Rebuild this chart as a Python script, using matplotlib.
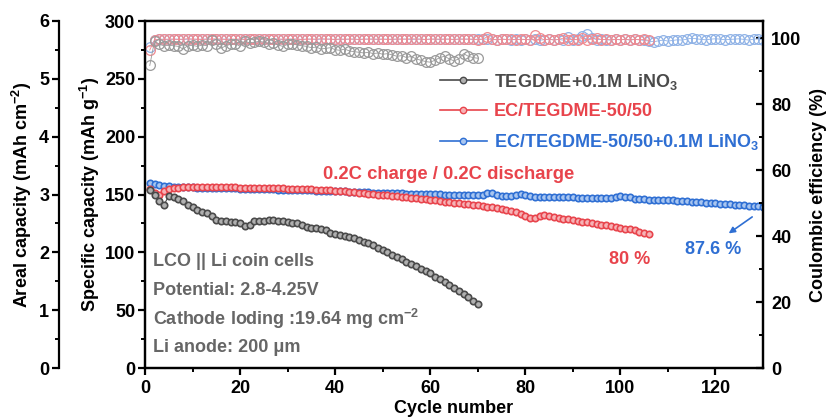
import numpy as np
import matplotlib
matplotlib.use("Agg")
import matplotlib.pyplot as plt
from matplotlib.lines import Line2D

plt.rcParams['font.family'] = ['Liberation Sans', 'DejaVu Sans']
plt.rcParams['font.weight'] = 'bold'
plt.rcParams['mathtext.fontset'] = 'custom'
plt.rcParams['mathtext.rm'] = 'Liberation Sans:bold'
plt.rcParams['mathtext.it'] = 'Liberation Sans:bold'
plt.rcParams['mathtext.bf'] = 'Liberation Sans:bold'
plt.rcParams['mathtext.default'] = 'rm'

# discharge capacity (mAh g-1)
gray_cap = [154, 150, 144, 141, 149, 148, 146, 144, 141, 139,
            137, 135, 134, 131, 128, 127, 127, 126, 126, 125,
            123, 124, 127, 127, 127, 128, 128, 127, 127, 126,
            125, 125, 124, 122, 121, 121, 120, 119, 117, 116,
            115, 114, 113, 112, 111, 109, 108, 106, 104, 102,
            100, 98, 96, 94, 92, 90, 88, 86, 84, 82,
            79, 77, 74, 72, 69, 67, 64, 61, 58, 55]
red_cap = [155, 151, 150, 153, 155, 156, 156, 156.5, 156.5, 156.5,
           156.5, 156.5, 156.5, 156.5, 156.5, 156.3, 156.3, 156.2, 156.2, 156,
           156, 155.8, 155.8, 155.6, 155.6, 155.5, 155.4, 155.4, 155.2, 155,
           155, 154.8, 154.6, 154.5, 154.4, 154.2, 154, 153.8, 153.5, 153.2,
           153, 152.6, 152.3, 152, 151.6, 151.2, 150.8, 150.4, 150, 149.6,
           149.2, 148.8, 148.5, 148.1, 147.7, 147.3, 146.9, 146.4, 145.9, 145.4,
           144.9, 144.4, 143.9, 143.4, 143, 142.5, 142, 141.5, 141, 140.5,
           140, 139.5, 139, 138.4, 137.7, 136.8, 135.8, 134.5, 133, 131.5,
           130, 129.5, 131, 132, 131.5, 130.5, 130, 129.2, 128.5, 127.8,
           127.2, 126.5, 125.8, 125.2, 124.6, 124, 123.3, 122.6, 122, 121.4,
           120.6, 119.8, 119, 118, 117, 115.5]
blue_cap = [160, 159.5, 158.5, 157.5, 157, 156.5, 156.5, 156.5, 156.3, 156.2,
            156, 156, 155.8, 155.8, 155.6, 155.5, 155.4, 155.3, 155.2, 155.1,
            155, 154.9, 154.8, 154.7, 154.6, 154.5, 154.4, 154.3, 154.2, 154.1,
            154, 153.9, 153.8, 153.6, 153.5, 153.4, 153.3, 153.2, 153.1, 153,
            152.8, 152.7, 152.5, 152.4, 152.2, 152, 151.8, 151.7, 151.5, 151.4,
            151.3, 151.2, 151, 150.9, 150.8, 150.7, 150.6, 150.5, 150.4, 150.3,
            150.2, 150.1, 150, 149.9, 149.8, 149.7, 149.6, 149.5, 149.4, 149.3,
            149.5, 151, 151.5, 149.5, 149, 148.8, 148.7, 149.2, 150.5, 150,
            148.5, 148.2, 148, 148, 147.9, 147.8, 147.8, 147.7, 147.6, 147.5,
            147.4, 147.3, 147.2, 147.1, 147, 146.9, 146.8, 146.7, 147.5, 148.5,
            148, 147.5, 146.5, 146, 145.8, 145.6, 145.5, 145.4, 145.3, 145.2,
            145, 144.8, 144.5, 144.2, 143.9, 143.6, 143.3, 143, 142.7, 142.4,
            142.1, 141.8, 141.5, 141.2, 140.9, 140.6, 140.3, 140, 139.7, 139.5]

# coulombic efficiency (%)
gray_ce = [91.8, 99.3, 98.2, 97.8, 97.9, 97.8, 97.6, 96.8, 97.8, 97.9,
           97.6, 98.0, 97.8, 99.4, 98.2, 97.0, 97.8, 98.2, 98.4, 97.6,
           99.3, 98.6, 98.9, 99.1, 98.9, 98.4, 98.6, 98.0, 97.6, 98.2,
           98.4, 98.0, 97.8, 97.6, 97.2, 97.4, 96.8, 97.0, 97.2, 96.6,
           96.4, 96.8, 96.2, 96.0, 95.8, 95.6, 95.8, 95.4, 95.6, 95.2,
           95.4, 95.0, 94.6, 94.8, 94.2, 94.6, 93.8, 93.4, 93.0, 92.8,
           93.4, 94.2, 94.6, 93.8, 93.2, 93.8, 95.4, 94.6, 94.2, 94.0]
red_ce = [96.5, 99.6, 99.8, 99.7, 99.8, 99.8, 99.7, 99.8, 99.9, 99.8,
          99.8, 99.7, 99.8, 99.8, 99.9, 99.8, 99.7, 99.8, 99.8, 99.8,
          99.7, 99.8, 99.8, 99.9, 99.8, 99.8, 99.7, 99.8, 99.8, 99.8,
          99.8, 99.8, 99.7, 99.8, 99.8, 99.8, 99.9, 99.8, 99.8, 99.7,
          99.8, 99.8, 99.8, 99.8, 99.7, 99.8, 99.8, 99.8, 99.8, 99.8,
          99.7, 99.8, 99.8, 99.8, 99.8, 99.9, 99.8, 99.8, 99.7, 99.8,
          99.8, 99.8, 99.8, 99.8, 99.7, 99.8, 99.8, 99.8, 99.8, 99.6,
          99.8, 100.5, 99.8, 99.6, 99.8, 99.7, 99.8, 99.6, 99.8, 99.7,
          99.6, 101.0, 100.2, 99.6, 99.8, 99.5, 99.7, 100.1, 99.6, 99.7,
          99.6, 100.0, 99.6, 99.8, 100.2, 99.6, 99.7, 99.6, 99.8, 99.6,
          99.7, 99.6, 99.8, 99.6, 99.7, 99.4]
blue_ce = [97.5, 99.4, 99.7, 99.8, 99.7, 99.8, 99.8, 99.7, 99.8, 99.8,
           99.7, 99.8, 99.8, 99.8, 99.7, 99.8, 99.8, 99.8, 99.7, 99.8,
           99.8, 99.7, 99.8, 99.8, 99.8, 99.7, 99.8, 99.8, 99.7, 99.8,
           99.8, 99.8, 99.7, 99.8, 99.8, 99.7, 99.8, 99.8, 99.8, 99.7,
           99.8, 99.7, 99.8, 99.8, 99.7, 99.8, 99.8, 99.8, 99.7, 99.8,
           99.8, 99.7, 99.8, 99.8, 99.8, 99.7, 99.8, 99.8, 99.7, 99.8,
           99.8, 99.7, 99.8, 99.8, 99.7, 99.8, 99.8, 99.8, 99.7, 99.8,
           99.8, 99.8, 99.7, 99.6, 99.8, 99.7, 99.5, 99.8, 99.6, 99.7,
           99.6, 99.8, 99.5, 99.6, 99.8, 99.6, 99.7, 99.5, 100.3, 99.6,
           99.8, 100.6, 101.5, 100.2, 99.6, 99.8, 99.6, 99.5, 99.7, 99.6,
           99.8, 99.5, 99.7, 99.6, 99.4, 99.2, 99.0, 99.3, 99.5, 99.2,
           99.4, 99.6, 99.5, 99.8, 100.1, 99.9, 99.7, 99.6, 99.8, 99.9,
           99.8, 99.6, 99.7, 99.8, 99.9, 99.7, 99.5, 99.8, 99.9, 99.6]

labels = ['TEGDME+0.1M LiNO$_3$', 'EC/TEGDME-50/50', 'EC/TEGDME-50/50+0.1M LiNO$_3$']
colors = ['#4a4a4a', '#e8444c', '#2f6fd3']
face = ['#b0b0b0', '#f6b3b6', '#a9c6f0']
ce_colors = ['#9a9a9a', '#f08a90', '#8fb2e6']

fig = plt.figure(figsize=(8.34, 4.2), dpi=100)
ax = fig.add_axes([0.1739, 0.1238, 0.741, 0.8262])
ax_ar = ax.twinx()
ax_ce = ax.twinx()

caps = [gray_cap, red_cap, blue_cap]
ces = [gray_ce, red_ce, blue_ce]
# blue first so red and gray sit on top, as in the original
for i in [2, 1, 0]:
    x = np.arange(1, len(caps[i]) + 1)
    ax.plot(x, caps[i], '-o', color=colors[i], lw=0.8, ms=4.6, mfc=face[i], mec=colors[i], mew=1.2)
    ax_ce.plot(x, ces[i], '-o', color=ce_colors[i], lw=0.6, ms=7, mfc='none',
               mec=ce_colors[i], mew=0.9)

ax.set_xlim(0, 130)
ax.set_ylim(0, 300)
ax_ar.set_ylim(0, 6)
ax_ce.set_ylim(0, 105.3)

ax.set_xticks([0, 20, 40, 60, 80, 100, 120])
ax.set_xticks(np.arange(10, 130, 20), minor=True)
ax.set_yticks(np.arange(0, 301, 50))
ax.set_yticks(np.arange(25, 300, 50), minor=True)
ax_ar.set_yticks(np.arange(0, 7, 1))
ax_ar.set_yticks(np.arange(0.5, 6, 1), minor=True)
ax_ce.set_yticks(np.arange(0, 101, 20))
ax_ce.set_yticks(np.arange(10, 101, 20), minor=True)

# areal capacity axis on the far left (86 px outward)
ax_ar.spines['left'].set_position(('outward', 62))
ax_ar.spines['left'].set_visible(True)
for s in ['right', 'top', 'bottom']:
    ax_ar.spines[s].set_visible(False)
ax_ar.yaxis.set_ticks_position('left')
ax_ar.yaxis.set_label_position('left')

for a in [ax, ax_ce]:
    for s in a.spines.values():
        s.set_linewidth(1.6)
ax_ar.spines['left'].set_linewidth(1.6)

ax.tick_params(axis='both', which='major', direction='out', length=5, width=1.6, labelsize=13)
ax.tick_params(axis='both', which='minor', direction='out', length=3, width=1.4)
ax.tick_params(axis='y', pad=2)
ax_ar.tick_params(axis='y', which='major', direction='out', length=5, width=1.6, labelsize=13, pad=2)
ax_ar.tick_params(axis='y', which='minor', direction='out', length=3, width=1.4)
ax_ce.tick_params(axis='y', which='major', direction='in', length=5, width=1.6, labelsize=13, pad=6)
ax_ce.tick_params(axis='y', which='minor', direction='in', length=3, width=1.4)

ax.set_xlabel('Cycle number', fontsize=13, fontweight='bold', labelpad=2)
ax.set_ylabel('Specific capacity (mAh g$^{-1}$)', fontsize=13, fontweight='bold', labelpad=2)
ax_ar.set_ylabel('Areal capacity (mAh cm$^{-2}$)', fontsize=13, fontweight='bold', labelpad=4)
ax_ce.set_ylabel('Coulombic efficiency (%)', fontsize=13, fontweight='bold', labelpad=6)

handles = [Line2D([], [], color=c, lw=1.2, marker='o', ms=4.6, mfc=fc, mec=c)
           for c, fc in zip(colors, face)]
leg = ax_ce.legend(handles, labels, loc='upper left', bbox_to_anchor=(0.465, 0.875),
                   frameon=False, fontsize=13, handlelength=2.6, handletextpad=0.4,
                   labelspacing=0.65, borderaxespad=0)
for t, c in zip(leg.get_texts(), colors):
    t.set_color(c)
    t.set_fontweight('bold')

ax.text(63.9, 167.7, '0.2C charge / 0.2C discharge', color='#e8444c', fontsize=13.3,
        fontweight='bold', ha='center', va='center')
ax.text(101.9, 93.4, '80 %', color='#e8444c', fontsize=13, fontweight='bold', ha='center', va='center')
ax.text(119.4, 102.5, '87.6 %', color='#2f6fd3', fontsize=13, fontweight='bold', ha='center', va='center')
ax.annotate('', xy=(122.3, 115), xytext=(128.2, 132),
            arrowprops=dict(arrowstyle='-|>', color='#2f6fd3', lw=1.2, mutation_scale=9))

notes = ['LCO || Li coin cells', 'Potential: 2.8-4.25V',
         'Cathode loding :19.64 mg cm$^{-2}$', 'Li anode: 200 \u03bcm']
for i, s in enumerate(notes):
    ax.text(1.7, 92 - 24.7 * i, s, color='#666666', fontsize=13, fontweight='bold',
            ha='left', va='center')

fig.savefig('out.png', dpi=100)
